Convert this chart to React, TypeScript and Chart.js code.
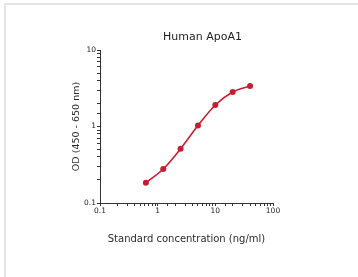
import React, { useEffect, useRef } from "react";
import { Chart, registerables } from "chart.js";

Chart.register(...registerables);

const chartTitle = "Human ApoA1";
const concentrations = [0.625, 1.25, 2.5, 5, 10, 20, 40];
const odValues = [0.184, 0.278, 0.513, 1.03, 1.91, 2.82, 3.38];
const xTickLabels = ["0.1", "1", "10", "100"];
const yTickLabels = ["0.1", "1", "10"];

const FONT = "'DejaVu Sans', Verdana, sans-serif";

function isDecade(v: number) {
  const l = Math.log10(v);
  return Math.abs(l - Math.round(l)) < 1e-6;
}

const titlePlugin = {
  id: "offsetTitle",
  afterDraw(chart: any) {
    const { ctx, chartArea } = chart;
    ctx.save();
    ctx.font = `11px ${FONT}`;
    ctx.fillStyle = "#1e1e1e";
    ctx.textAlign = "center";
    ctx.textBaseline = "middle";
    ctx.fillText(chartTitle, (chartArea.left + chartArea.right) / 2 + 16, chartArea.top - 13);
    ctx.restore();
  },
};

export default function App() {
  const ref = useRef<HTMLCanvasElement | null>(null);
  useEffect(() => {
    if (!ref.current) return;
    const chart = new Chart(ref.current, {
      type: "line",
      data: {
        datasets: [
          {
            data: concentrations.map((x, i) => ({ x, y: odValues[i] })),
            borderColor: "#c41f30",
            backgroundColor: "#c41f30",
            borderWidth: 1.6,
            pointRadius: 3,
            pointBorderWidth: 0,
            cubicInterpolationMode: "monotone",
            tension: 0.4,
          },
        ],
      },
      plugins: [titlePlugin],
      options: {
        animation: false,
        responsive: false,
        maintainAspectRatio: false,
        layout: { padding: { left: 0, right: 85, top: 50, bottom: 0 } },
        plugins: {
          legend: { display: false },
          tooltip: { enabled: false },
          title: { display: false },
        },
        scales: {
          x: {
            type: "logarithmic",
            min: 0.1,
            max: 100,
            afterFit: (s: any) => {
              s.height = 74;
            },
            border: { display: true, color: "#333", width: 1 },
            grid: {
              drawOnChartArea: false,
              drawTicks: true,
              tickLength: 3,
              tickColor: "#333",
            },
            ticks: {
              autoSkip: false,
              maxRotation: 0,
              padding: 1,
              color: "#222",
              font: { family: FONT, size: 7.5 },
              callback: (v: any) => {
                const n = Number(v);
                if (!isDecade(n)) return "";
                const lbl = xTickLabels.find((t) => Math.abs(Number(t) - n) < 1e-9);
                return lbl ?? "";
              },
            },
            title: {
              display: true,
              text: "Standard concentration (ng/ml)",
              color: "#2a2a2a",
              font: { family: FONT, size: 10 },
              padding: { top: 0, bottom: 32 },
            },
          },
          y: {
            type: "logarithmic",
            min: 0.1,
            max: 10,
            afterFit: (s: any) => {
              s.width = 100;
            },
            border: { display: true, color: "#333", width: 1 },
            grid: {
              drawOnChartArea: false,
              drawTicks: true,
              tickLength: 3,
              tickColor: "#333",
            },
            ticks: {
              autoSkip: false,
              padding: 1,
              color: "#222",
              font: { family: FONT, size: 7.5 },
              callback: (v: any) => {
                const n = Number(v);
                if (!isDecade(n)) return "";
                const lbl = yTickLabels.find((t) => Math.abs(Number(t) - n) < 1e-9);
                return lbl ?? "";
              },
            },
            title: {
              display: true,
              text: "OD (450 - 650 nm)",
              color: "#2a2a2a",
              font: { family: FONT, size: 9.5 },
              padding: { top: 71, bottom: 0 },
            },
          },
        },
      },
    });
    return () => chart.destroy();
  }, []);

  return (
    <div style={{ position: "absolute", left: 0, top: 0, width: 358, height: 277, background: "#fff" }}>
      <div
        style={{
          position: "absolute",
          left: 4,
          top: 3,
          width: 354,
          height: 274,
          borderTop: "2px solid #e4e4e4",
          borderLeft: "2px solid #e4e4e4",
          boxSizing: "border-box",
        }}
      />
      <canvas ref={ref} width={358} height={277} style={{ position: "absolute", left: 0, top: 0 }} />
    </div>
  );
}
